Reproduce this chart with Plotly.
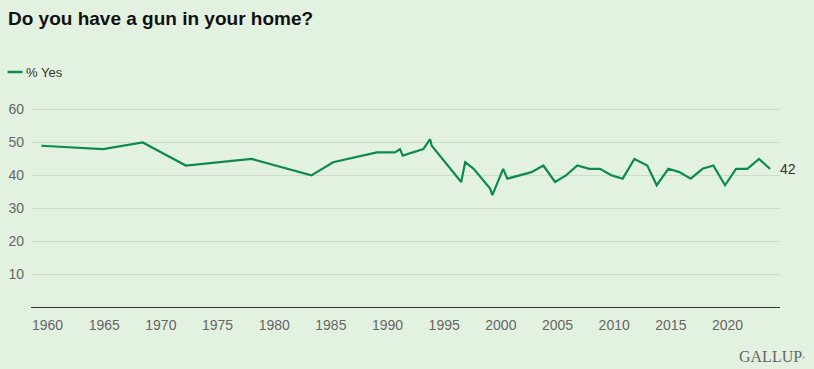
import plotly.graph_objects as go

# Data
years = [1959.45, 1964.9, 1968.4, 1972.2, 1978.0, 1983.28, 1985.2, 1989.05, 1990.66,
         1991.1, 1991.34, 1993.16, 1993.75, 1993.9, 1996.5, 1996.85, 1997.6, 1999.05,
         1999.25, 2000.2, 2000.57, 2002.7, 2003.75, 2004.78, 2005.75, 2006.75, 2007.8,
         2008.75, 2009.78, 2010.75, 2011.78, 2012.92, 2013.75, 2014.78, 2015.75,
         2016.75, 2017.8, 2018.75, 2019.78, 2020.75, 2021.75, 2022.78, 2023.75]
pct_yes = [49, 48, 50, 43, 45, 40, 44, 47, 47,
           48, 46, 48, 51, 49, 38, 44, 42, 36,
           34, 42, 39, 41, 43, 38, 40, 43, 42,
           42, 40, 39, 45, 43, 37, 42, 41,
           39, 42, 43, 37, 42, 42, 45, 42]
tick_years = [1960, 1965, 1970, 1975, 1980, 1985, 1990, 1995, 2000, 2005, 2010, 2015, 2020]
y_ticks = [10, 20, 30, 40, 50, 60]

W, H = 814, 369
L, R, T, B = 31, 34, 103, 62
BG = "#e3f1e0"
GREEN = "#0e8a4f"

def pxx(px):
    return (px - L) / (W - L - R)

def pxy(py):
    return (H - B - py) / (H - T - B)

fig = go.Figure()
fig.add_trace(go.Scatter(x=years, y=pct_yes, mode="lines", name="% Yes",
                         line=dict(color=GREEN, width=2.2), showlegend=False,
                         hoverinfo="x+y"))

fig.update_layout(
    width=W, height=H,
    margin=dict(l=L, r=R, t=T, b=B, autoexpand=False),
    paper_bgcolor=BG, plot_bgcolor=BG,
    font=dict(family="Liberation Sans, Arial, sans-serif", color="#666666", size=14),
    title=dict(text="<b>Do you have a gun in your home?</b>", x=8 / W, xanchor="left",
               xref="container", yref="container", y=1 - 18 / H, yanchor="middle",
               font=dict(size=19, color="#111111", family="Liberation Sans, Arial, sans-serif")),
    xaxis=dict(range=[1958.54, 2024.63], tickvals=tick_years, showgrid=False, zeroline=False,
               showline=True, linecolor="#333333", linewidth=1.2, ticks="", ticklabelstandoff=5,
               tickfont=dict(size=14, color="#666666"), automargin=False),
    yaxis=dict(range=[0, 62], tickvals=y_ticks, showgrid=True, gridcolor="#cbdccb", gridwidth=1,
               zeroline=False, showline=False, ticks="", ticklabelstandoff=6,
               tickfont=dict(size=14, color="#666666"), automargin=False),
)

# Legend (drawn manually)
fig.add_shape(type="line", xref="paper", yref="paper", x0=pxx(7.5), x1=pxx(22.5), y0=pxy(72), y1=pxy(72),
              line=dict(color=GREEN, width=2.5))
fig.add_annotation(xref="paper", yref="paper", x=pxx(24), y=pxy(72), text="% Yes", showarrow=False,
                   xanchor="left", yanchor="middle", font=dict(size=13, color="#333333"))

# End label
fig.add_annotation(x=years[-1], y=pct_yes[-1], text=str(pct_yes[-1]), showarrow=False,
                   xanchor="left", yanchor="middle", xshift=8,
                   font=dict(size=14, color="#333333"))

# Gallup logo text
fig.add_annotation(xref="paper", yref="paper", x=pxx(807), y=pxy(356),
                   text="GALLUP<span style='font-size:6px'><sup>®</sup></span>",
                   showarrow=False, xanchor="right", yanchor="middle",
                   font=dict(size=16, color="#666666", family="Liberation Serif, Times New Roman, serif"))

fig.write_html("out.html", config={"displayModeBar": False},
               post_script="document.body.style.margin='0';document.body.style.overflow='hidden';")
